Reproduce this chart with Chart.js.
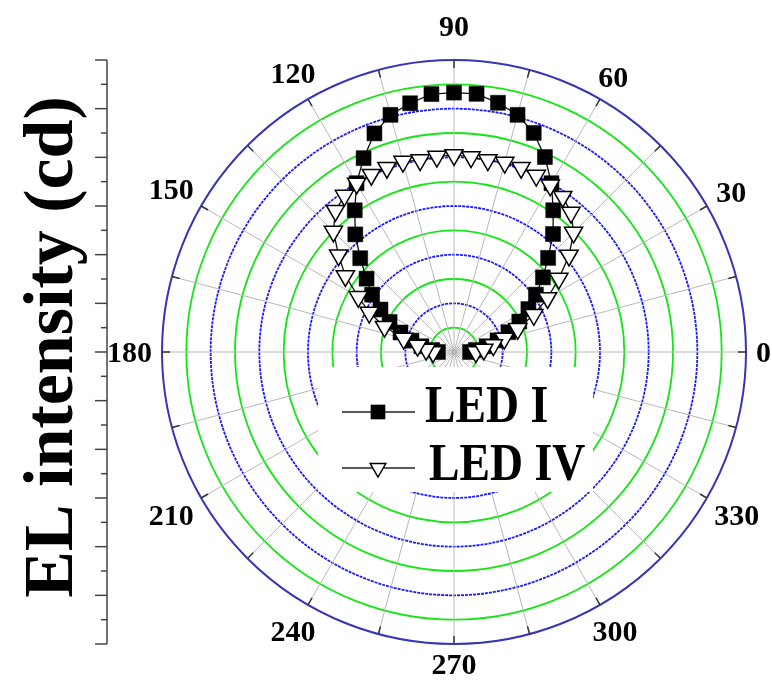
<!DOCTYPE html>
<html><head><meta charset="utf-8">
<script src="https://cdn.jsdelivr.net/npm/chart.js@4/dist/chart.umd.min.js"></script>
<style>html,body{margin:0;padding:0;background:#fff;}canvas{display:block;}</style>
</head><body>
<canvas id="c" width="772" height="684"></canvas>
<script>
// ---- data (angle in degrees, intensity in axis units) ----
const angles = [0,5,10,15,20,25,30,35,40,45,50,55,60,65,70,75,80,85,90,95,100,105,110,115,120,125,130,135,140,145,150,155,160,165,170,175,180];
const ledI  = [0.66,0.90,1.36,1.85,2.38,2.96,3.53,4.11,4.77,5.47,6.33,7.11,8.01,8.84,9.58,10.09,10.40,10.65,10.66,10.64,10.38,10.09,9.56,8.79,8.01,7.11,6.31,5.45,4.69,4.11,3.49,2.92,2.34,1.81,1.36,0.90,0.66];
const ledIV = [0.90,1.23,1.64,2.14,2.79,3.62,4.44,5.26,6.17,6.95,7.48,7.79,7.91,8.00,8.06,8.06,8.01,8.04,8.10,8.06,8.01,8.10,8.06,8.04,8.00,7.85,7.58,7.01,6.19,5.45,4.54,3.84,3.04,2.14,1.52,1.15,0.86];
const angleTickLabels = ['0','30','60','90','120','150','180','210','240','270','300','330'];
const seriesNames = ['LED I','LED IV'];
const axisTitle = 'EL intensity (cd)';
const rMax = 12;
const ringStep = 1;
const angleStep = 5;
const gridAngleStep = 15;

// ---- build radar slots (clockwise from east => angle = 360 - i*step) ----
const nSlots = 360 / angleStep;
const slotAngle = i => (360 - i * angleStep) % 360;
const slotOf = a => ((360 - a) % 360) / angleStep;
const slotLabels = Array.from({length: nSlots}, (_, i) => String(slotAngle(i)));
function toSlots(vals) {
  const arr = new Array(nSlots).fill(null);
  angles.forEach((a, k) => { arr[slotOf(a)] = vals[k]; });
  return arr;
}

const SERIF = '"Liberation Serif","Times New Roman",serif';
const GREEN = '#14e614', BLUE = '#1a1aff', OUTER = '#3535b5';

function drawMarker(ctx, ds, x, y, radius) {
  const opts = {pointStyle: ds.pointStyle, radius: radius, rotation: ds.pointRotation || 0, borderWidth: ds.pointBorderWidth};
  ctx.save();
  ctx.fillStyle = ds.pointBackgroundColor;
  ctx.strokeStyle = ds.pointBorderColor;
  ctx.lineWidth = ds.pointBorderWidth;
  Chart.helpers.drawPoint(ctx, opts, x, y);
  ctx.restore();
}

const decor = {
  id: 'decor',
  beforeDatasetsDraw(chart) {
    const ctx = chart.ctx, s = chart.scales.r;
    const cx = s.xCenter, cy = s.yCenter, R = s.drawingArea;
    ctx.save();
    // legend backdrop hiding the grid
    ctx.fillStyle = '#fff';
    ctx.fillRect(cx - 136, cy + 15, 275, 125);
    // short dark ticks on the outer ring
    ctx.strokeStyle = '#333';
    ctx.lineWidth = 1.5;
    for (let a = 0; a < 360; a += gridAngleStep) {
      const p1 = s.getPointPosition(slotOf(a), R);
      const p2 = s.getPointPosition(slotOf(a), R - 8);
      ctx.beginPath(); ctx.moveTo(p1.x, p1.y); ctx.lineTo(p2.x, p2.y); ctx.stroke();
    }
    // left vertical intensity axis
    const ax = cx - R - 55;
    ctx.strokeStyle = '#444';
    ctx.lineWidth = 1.5;
    ctx.beginPath();
    ctx.moveTo(ax, cy - s.getDistanceFromCenterForValue(rMax));
    ctx.lineTo(ax, cy + s.getDistanceFromCenterForValue(rMax));
    ctx.stroke();
    for (let v = -rMax; v <= rMax; v += ringStep) {
      const d = s.getDistanceFromCenterForValue(Math.abs(v));
      const y = cy + (v < 0 ? d : -d);
      const len = (Math.abs(v) % 2 === 0) ? 12 : 6;
      ctx.beginPath(); ctx.moveTo(ax - len, y); ctx.lineTo(ax, y); ctx.stroke();
    }
    // axis title
    ctx.fillStyle = '#000';
    ctx.font = 'bold 70px ' + SERIF;
    ctx.textAlign = 'center';
    ctx.textBaseline = 'alphabetic';
    ctx.translate(ax - 35, cy - 5);
    ctx.rotate(-Math.PI / 2);
    ctx.fillText(axisTitle, 0, 0);
    ctx.restore();

    // angle labels
    ctx.save();
    ctx.fillStyle = '#000';
    const fs = 30;
    ctx.font = 'bold ' + fs + 'px ' + SERIF;
    ctx.textAlign = 'center';
    ctx.textBaseline = 'alphabetic';
    angleTickLabels.forEach(lbl => {
      const a = parseFloat(lbl);
      const w = ctx.measureText(lbl).width, h = fs * 0.68;
      const rad = a * Math.PI / 180;
      const off = 10 + Math.abs(Math.cos(rad)) * w / 2 + Math.abs(Math.sin(rad)) * h / 2 + (a === 90 ? 14 : 0);
      const p = s.getPointPosition(slotOf(a), R + off);
      ctx.fillText(lbl, p.x, p.y + h / 2);
    });
    ctx.restore();
  },
  afterDraw(chart) {
    const ctx = chart.ctx, s = chart.scales.r;
    const cx = s.xCenter, cy = s.yCenter;
    const rows = [cy + 60, cy + 116];
    chart.data.datasets.forEach((ds, k) => {
      const y = rows[k];
      ctx.save();
      ctx.strokeStyle = '#222';
      ctx.lineWidth = 1.5;
      ctx.beginPath(); ctx.moveTo(cx - 112, y); ctx.lineTo(cx - 39, y); ctx.stroke();
      ctx.restore();
      drawMarker(ctx, ds, cx - 76, y, k === 0 ? 10 : 9);
      ctx.save();
      ctx.fillStyle = '#000';
      ctx.font = 'bold 52px ' + SERIF;
      ctx.textBaseline = 'alphabetic';
      ctx.translate(cx - 29 + (k === 1 ? 4 : 0), y + 10 + (k === 1 ? 2 : 0));
      ctx.scale(0.88, 1);
      ctx.fillText(ds.label, 0, 0);
      ctx.restore();
    });
  }
};

new Chart(document.getElementById('c'), {
  type: 'radar',
  data: {
    labels: slotLabels,
    datasets: [
      {
        label: seriesNames[0], data: toSlots(ledI), order: 2,
        borderColor: '#111', borderWidth: 1.3, fill: false, tension: 0, spanGaps: false,
        pointStyle: 'rect', pointRadius: 10.6, pointBackgroundColor: '#000',
        pointBorderColor: '#000', pointBorderWidth: 0.5
      },
      {
        label: seriesNames[1], data: toSlots(ledIV), order: 1,
        borderColor: '#111', borderWidth: 1.3, fill: false, tension: 0, spanGaps: false,
        pointStyle: 'triangle', pointRotation: 180, pointRadius: 10.5,
        pointBackgroundColor: '#fff', pointBorderColor: '#000', pointBorderWidth: 1.5
      }
    ]
  },
  options: {
    responsive: false,
    animation: false,
    events: [],
    devicePixelRatio: 1,
    layout: {padding: {left: 162, right: 26, top: 60, bottom: 40}},
    plugins: {legend: {display: false}, tooltip: {enabled: false}},
    scales: {
      r: {
        min: 0, max: rMax, startAngle: 90,
        ticks: {display: false, stepSize: ringStep},
        pointLabels: {display: false},
        grid: {
          circular: true,
          color: c => c.tick.value === rMax ? OUTER : (c.tick.value % 2 === 1 ? GREEN : BLUE),
          lineWidth: c => c.tick.value === rMax ? 2 : 1.8
        },
        border: {dash: c => (c.tick && c.tick.value % 2 === 0 && c.tick.value !== rMax) ? [3, 1] : []},
        angleLines: {
          display: true,
          color: c => slotAngle(c.index) % gridAngleStep === 0 ? '#b8b8b8' : 'rgba(0,0,0,0)',
          lineWidth: c => slotAngle(c.index) % gridAngleStep === 0 ? 1 : 0
        }
      }
    }
  },
  plugins: [decor]
});
</script>
</body></html>
